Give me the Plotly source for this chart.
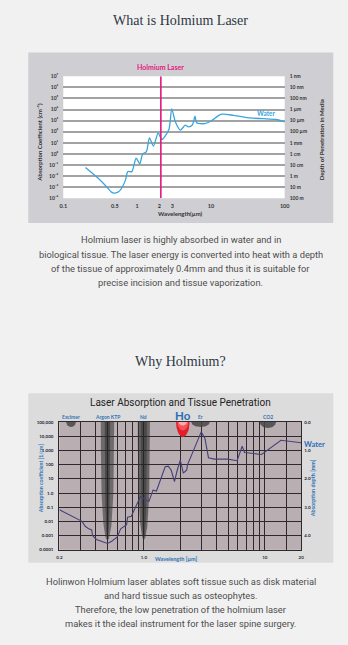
import numpy as np
import plotly.graph_objects as go

W, H = 348, 645

# ---------------- Top chart data ----------------
top_wavelength = [0.2, 0.295, 0.4, 0.45, 0.49, 0.55, 0.6, 0.70, 0.75, 0.85, 0.97, 1.09, 1.19, 1.34,
                  1.47, 1.67, 1.93, 2.17, 2.7, 2.95, 3.3, 3.87, 4.5, 4.96, 5.6, 6.1, 6.4, 8.3, 10.1,
                  13.6, 20.3, 33.9, 51, 76.6, 100]
top_absorption = [0.059, 0.0065, 8.3e-4, 3.5e-4, 2.8e-4, 3.5e-4, 6.0e-4, 4.7e-3, 0.025, 0.025, 0.40,
                  0.126, 1.0, 1.6, 28, 5.1, 79, 20, 160, 11700, 790, 138, 400, 275, 400, 2500, 630,
                  540, 930, 3700, 3000, 1740, 1500, 1260, 760]
top_y_ticks = [1e7, 1e6, 1e5, 1e4, 1e3, 1e2, 1e1, 1e0, 1e-1, 1e-2, 1e-3, 1e-4]
top_y_labels = ["10⁷", "10⁶", "10⁵", "10⁴", "10³", "10²", "10¹", "10⁰", "10⁻¹", "10⁻²", "10⁻³", "10⁻⁴"]
top_depth_labels = ["1 nm", "10 nm", "100 nm", "1 µm", "10 µm", "100 µm", "1 mm", "1 cm", "10 cm",
                    "1 m", "10 m", "100 m"]
top_x_ticks = [0.1, 0.5, 1, 2, 3, 10, 100]
top_x_labels = ["0.1", "0.5", "1", "2", "3", "10", "100"]
holmium_wavelength = 2.1

# ---------------- Bottom chart data ----------------
bot_wavelength = [0.2, 0.308, 0.327, 0.35, 0.37, 0.376, 0.405, 0.5, 0.542, 0.6, 0.643, 0.72, 0.733,
                  0.787, 0.937, 1.035, 1.1, 1.19, 1.27, 1.5, 1.59, 1.68, 1.79, 1.89, 2.0, 2.12, 2.26,
                  2.29, 2.5, 2.98, 3.2, 3.42, 3.83, 4.95, 5.9, 6.5, 6.8, 9.4, 13.6, 20]
bot_absorption = [0.068, 0.0102, 0.0046, 0.0030, 0.0025, 0.00102, 0.00054, 0.00028, 0.00041, 0.00079,
                  0.0030, 0.0060, 0.020, 0.023, 0.58, 0.37, 0.26, 1.6, 1.4, 72, 79, 42, 6.5, 42, 210,
                  25, 42, 93, 620, 20400, 6900, 310, 245, 245, 190, 2000, 720, 525, 5200, 3500]
bot_y_ticks = [1e5, 1e4, 1e3, 1e2, 1e1, 1e0, 1e-1, 1e-2, 1e-3, 1e-4]
bot_y_labels = ["100,000", "10,000", "1,000", "100", "10", "1.0", "0.1", "0.01", "0.001", "0.0001"]
bot_depth_ticks = [1e5, 1e3, 1e1, 1e-1, 1e-3]
bot_depth_labels = ["0.0", "1.0", "2.0", "3.0", "4.0"]
bot_x_grid = [0.2, 0.3, 0.4, 0.5, 0.6, 0.7, 0.8, 0.9, 1, 2, 3, 4, 5, 6, 7, 8, 9, 10, 15, 20]
bot_x_labels = {0.2: "0.2", 1: "1.0", 10: "10", 20: "20"}

laser_names = ["Excimer", "Argon KTP", "Nd", "Ho", "Er", "CO2"]
laser_wavelength = [0.25, 0.5, 1.0, 2.1, 2.94, 10.6]


def px(x):
    return x / W


def py(y):
    return 1 - y / H


TOP_X = [px(61), px(289)]
TOP_Y = [py(197), py(74)]
BOT_X = [px(57), px(306)]
BOT_Y = [py(552), py(423)]

DARK = "#333333"
BLUE = "#2f74b5"
FONT = "Lato"

fig = go.Figure()

# ---- top chart traces
fig.add_trace(go.Scatter(x=top_wavelength, y=top_absorption, mode="lines",
                         line=dict(color="#3aa6dc", width=1.3, shape="spline", smoothing=0.7),
                         xaxis="x", yaxis="y", hoverinfo="skip"))
fig.add_trace(go.Scatter(x=[holmium_wavelength, holmium_wavelength], y=[1e-4, 1e7], mode="lines",
                         line=dict(color="#e5177f", width=1.6), xaxis="x", yaxis="y", hoverinfo="skip"))
# dummy traces for overlay axes
for ya in ["y3", "y4"]:
    fig.add_trace(go.Scatter(x=[None], y=[None], xaxis="x", yaxis=ya, hoverinfo="skip"))


# ---- bottom chart decorations (laser markers)
def blob(center, half_w_dec, depth_dec, top_log=5, n=50):
    t = np.linspace(0, np.pi, n)
    xs = 10 ** (np.log10(center) + half_w_dec * np.cos(t))
    ys = 10 ** (top_log - depth_dec * np.sin(t))
    return xs, ys


def spindle(center, half_w_dec, tip_log, top_log=5, n=50):
    s = np.linspace(0, 1, n)
    w = half_w_dec * np.sqrt(np.clip(1 - s ** 3, 0, 1))
    yl = top_log - s * (top_log - tip_log)
    lc = np.log10(center)
    xs = np.concatenate([10 ** (lc + w), (10 ** (lc - w))[::-1]])
    ys = np.concatenate([10 ** yl, (10 ** yl)[::-1]])
    return xs, ys


def add_fill(xs, ys, color):
    fig.add_trace(go.Scatter(x=xs, y=ys, fill="toself", fillcolor=color, mode="lines",
                             line=dict(width=0), xaxis="x2", yaxis="y2", hoverinfo="skip"))


# Excimer
add_fill(*blob(laser_wavelength[0], 0.04, 0.35), "rgba(70,70,70,0.85)")
# Argon KTP
add_fill(*spindle(laser_wavelength[1], 0.055, -3.36), "rgba(50,50,50,0.55)")
add_fill(*spindle(laser_wavelength[1], 0.022, -3.2), "rgba(30,30,30,0.45)")
# Nd
add_fill(*spindle(laser_wavelength[2], 0.05, -3.3), "rgba(50,50,50,0.6)")
add_fill(*spindle(laser_wavelength[2], 0.025, -3.1), "rgba(30,30,30,0.4)")
# Ho
add_fill(*blob(laser_wavelength[3], 0.056, 1.05), "#e31e2a")
add_fill(*blob(laser_wavelength[3], 0.045, 0.6), "rgba(245,90,95,0.9)")
add_fill(*blob(laser_wavelength[3], 0.035, 0.25), "rgba(255,190,190,0.8)")
# Er
add_fill(*blob(laser_wavelength[4], 0.076, 0.35), "rgba(70,70,70,0.85)")
# CO2
add_fill(*blob(laser_wavelength[5], 0.067, 0.42), "rgba(70,70,70,0.85)")

fig.add_trace(go.Scatter(x=bot_wavelength, y=bot_absorption, mode="lines",
                         line=dict(color="#45417a", width=1.1), xaxis="x2", yaxis="y2", hoverinfo="skip"))
fig.add_trace(go.Scatter(x=[None], y=[None], xaxis="x2", yaxis="y5", hoverinfo="skip"))

tick_small = dict(family=FONT, size=5, color=DARK, weight="bold")

fig.update_layout(
    width=W, height=H, autosize=False,
    margin=dict(l=0, r=0, t=0, b=0),
    paper_bgcolor="#f1f1f1", plot_bgcolor="rgba(0,0,0,0)",
    showlegend=False, hovermode=False,
    # ---- top chart axes
    xaxis=dict(domain=TOP_X, anchor="y", type="log", range=[-1, 2], showgrid=False, zeroline=False,
               tickmode="array", tickvals=top_x_ticks, ticktext=top_x_labels, ticks="",
               tickfont=dict(family=FONT, size=5.5, color=DARK, weight="bold"), ticklabelstandoff=3,
               showline=False),
    yaxis=dict(domain=TOP_Y, anchor="x", type="log", range=[-4, 7], showticklabels=False,
               tickmode="array", tickvals=top_y_ticks[1:-1], showgrid=True, gridcolor="#a3a3a3",
               gridwidth=1.6, zeroline=False, ticks=""),
    yaxis3=dict(overlaying="y", anchor="x", side="left", type="log", range=[-4, 7], showgrid=False,
                tickmode="array", tickvals=top_y_ticks, ticktext=top_y_labels, ticks="",
                tickfont=tick_small, ticklabelstandoff=4, zeroline=False),
    yaxis4=dict(overlaying="y", anchor="x", side="right", type="log", range=[-4, 7], showgrid=False,
                tickmode="array", tickvals=top_y_ticks, ticktext=top_depth_labels, ticks="",
                tickfont=tick_small, ticklabelstandoff=4, zeroline=False),
    # ---- bottom chart axes
    xaxis2=dict(domain=BOT_X, anchor="y2", type="log", range=[np.log10(0.2), np.log10(20)],
                tickmode="array", tickvals=bot_x_grid,
                ticktext=[bot_x_labels.get(v, "") for v in bot_x_grid], ticks="",
                showgrid=True, gridcolor="#2e2a2c", gridwidth=1.1, zeroline=False,
                showline=True, mirror=True, linecolor="#2e2a2c", linewidth=1.2,
                tickfont=dict(family=FONT, size=4.5, color=DARK, weight="bold"), ticklabelstandoff=3),
    yaxis2=dict(domain=BOT_Y, anchor="x2", type="log", range=[-4, 5], tickmode="array",
                tickvals=bot_y_ticks, ticktext=bot_y_labels, ticks="", showgrid=True,
                gridcolor="#2e2a2c", gridwidth=1.1, zeroline=False, showline=True, mirror=True,
                linecolor="#2e2a2c", linewidth=1.2,
                tickfont=dict(family=FONT, size=4.5, color="#1f1f3a", weight="bold"), ticklabelstandoff=4),
    yaxis5=dict(overlaying="y2", anchor="x2", side="right", type="log", range=[-4, 5], showgrid=False,
                tickmode="array", tickvals=bot_depth_ticks, ticktext=bot_depth_labels, ticks="",
                tickfont=dict(family=FONT, size=4.5, color="#1f1f3a", weight="bold"),
                ticklabelstandoff=2, zeroline=False),
)

shapes = [
    dict(type="rect", xref="paper", yref="paper", x0=px(25), x1=px(339), y0=py(222), y1=py(50),
         fillcolor="#cfcfd3", line=dict(width=0), layer="below"),
    dict(type="rect", xref="paper", yref="paper", x0=TOP_X[0], x1=TOP_X[1], y0=TOP_Y[0], y1=TOP_Y[1],
         fillcolor="#ffffff", line=dict(width=0), layer="below"),
    dict(type="rect", xref="paper", yref="paper", x0=px(25), x1=px(339), y0=py(565), y1=py(394),
         fillcolor="#dcdcdc", line=dict(width=0), layer="below"),
    dict(type="rect", xref="paper", yref="paper", x0=BOT_X[0], x1=BOT_X[1], y0=BOT_Y[0], y1=BOT_Y[1],
         fillcolor="#b9aeb2", line=dict(width=0), layer="below"),
]
fig.update_layout(shapes=shapes)

ann = []


def text(x, y, s, size, color=DARK, family=FONT, weight="normal", angle=0, xanchor="center",
         xref="paper"):
    ann.append(dict(x=x, y=y, xref=xref, yref="paper", text=s, showarrow=False, textangle=angle,
                    xanchor=xanchor, yanchor="middle",
                    font=dict(family=family, size=size, color=color, weight=weight)))


CX = px(182)
SERIF = "Liberation Serif"
text(CX, py(17.5), "What is Holmium Laser", 14, color="#2e3744", family=SERIF)
text(CX, py(362), "Why Holmium?", 14, color="#2e3744", family=SERIF)

para1 = ["Holmium laser is highly absorbed in water and in",
         "biological tissue. The laser energy is converted into heat with a depth",
         "of the tissue of approximately 0.4mm and thus it is suitable for",
         "precise incision and tissue vaporization."]
for i, line in enumerate(para1):
    text(CX, py(239 + 14.4 * i), line, 9.3, color="#4d4d4d", family="Roboto")

para2 = ["Holinwon Holmium laser ablates soft tissue such as disk material",
         "and hard tissue such as osteophytes.",
         "Therefore, the low penetration of the holmium laser",
         "makes it the ideal instrument for the laser spine surgery."]
for i, line in enumerate(para2):
    text(CX, py(583.5 + 14.2 * i), line, 9.3, color="#4d4d4d", family="Roboto")

# top chart texts
text(np.log10(holmium_wavelength), py(64.5), "Holmium Laser", 7, color="#e5177f", weight="bold", xref="x")
text(px(270), py(112), "Water", 6.5, color="#3aa6dc", weight="bold")
text(px(182), py(212.5), "Wavelength(µm)", 6, weight="bold")
text(px(37), py(140), "Absorption Coefficient (cm⁻¹)", 6, weight="bold", angle=-90)
text(px(327), py(138), "Depth of Penetration in Media", 6, weight="bold", angle=-90)

# bottom chart texts
text(CX, py(403), "Laser Absorption and Tissue Penetration", 10, color="#222222", family="Roboto")
for name, wl in zip(laser_names, laser_wavelength):
    if name == "Ho":
        text(np.log10(wl), py(416), "Ho", 11.5, color="#2d6db5", weight="bold", xref="x2")
    else:
        text(np.log10(wl), py(417.5), name, 5, color=BLUE, weight="bold", xref="x2")
text(px(307), py(445.7), "Water", 7.5, color="#2d6db5", weight="bold", xanchor="left")
text(px(178), py(561), "Wavelength [µm]", 5.5, color=BLUE, weight="bold")
text(px(37.7), py(480), "Absorption coefficient [1/cm]", 5.2, color=BLUE, weight="bold", angle=-90)
text(px(319), py(490), "Absorption depth [mm]", 5.5, color=BLUE, weight="bold", angle=-90)

fig.update_layout(annotations=ann)
fig.write_html("out.html")
